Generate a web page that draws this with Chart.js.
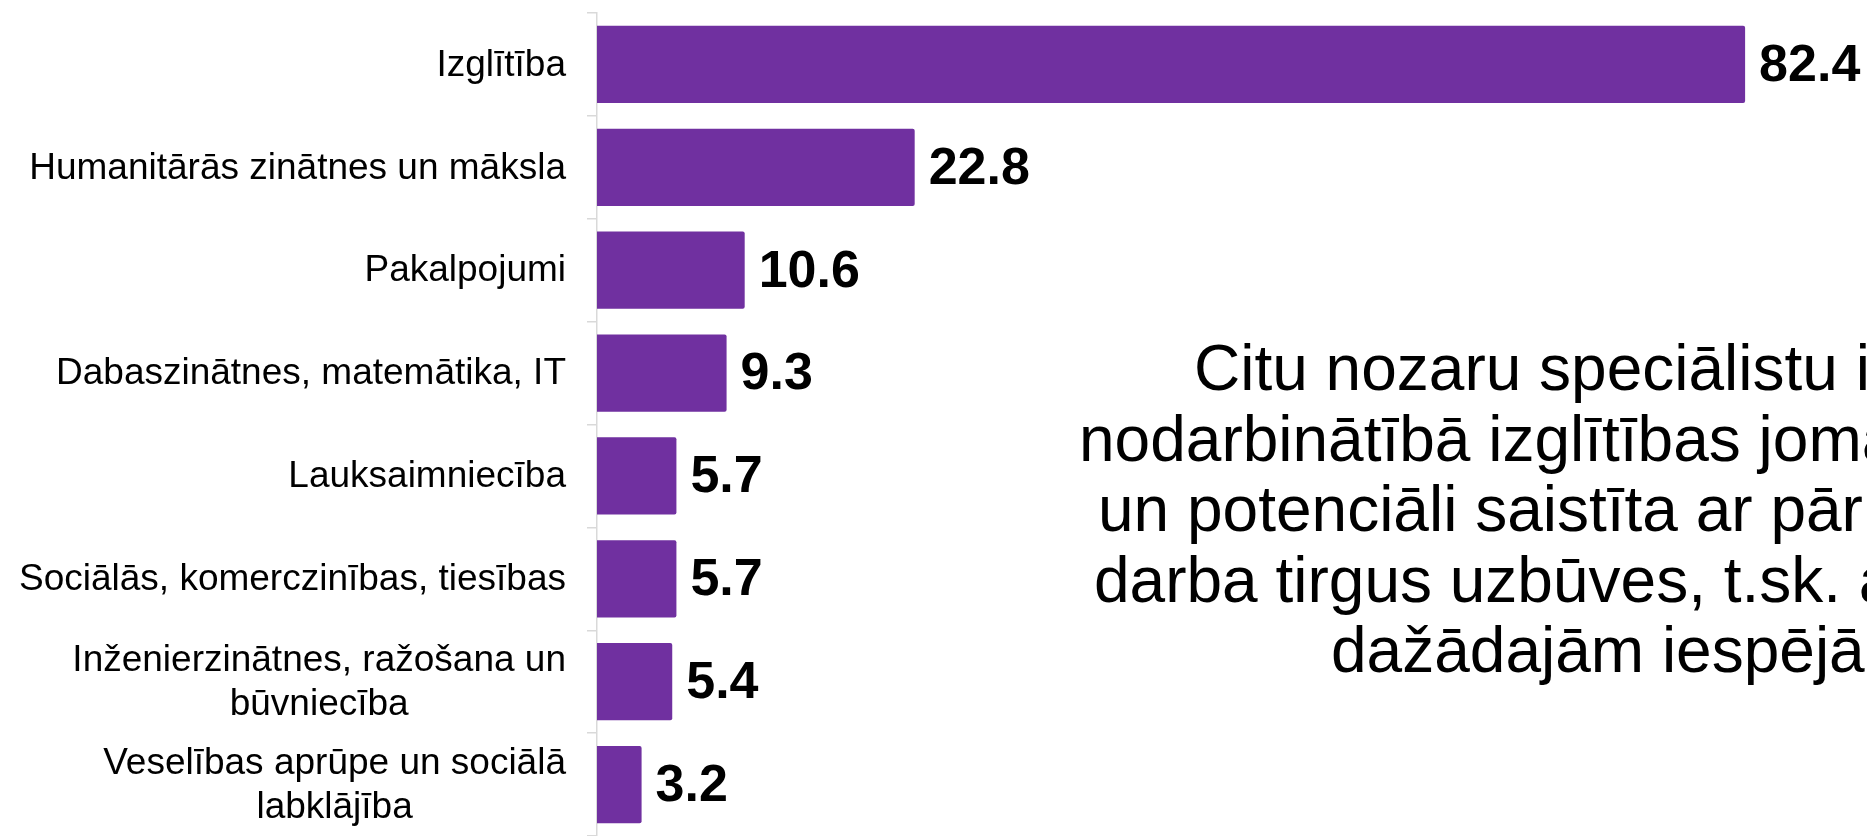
<!DOCTYPE html>
<html>
<head>
<meta charset="utf-8">
<script src="https://cdn.jsdelivr.net/npm/chart.js@4/dist/chart.umd.min.js"></script>
<style>
  html, body { margin: 0; padding: 0; background: #fff; overflow: hidden; }
  #wrap { width: 1867px; height: 836px; position: relative; }
</style>
</head>
<body>
<div id="wrap"><canvas id="myChart"></canvas></div>
<script>
// categories (multi-line ones are arrays)
var categories = [
  ['Izglītība'],
  ['Humanitārās zinātnes un māksla'],
  ['Pakalpojumi'],
  ['Dabaszinātnes, matemātika, IT'],
  ['Lauksaimniecība'],
  ['Sociālās, komerczinības, tiesības'],
  ['Inženierzinātnes, ražošana un', 'būvniecība'],
  ['Veselības aprūpe un sociālā', 'labklājība']
];
var values = [82.4, 22.8, 10.6, 9.3, 5.7, 5.7, 5.4, 3.2];

// side note, cut off by the right edge in the original
var noteLines = [
  'Citu nozaru speciālistu iesaiste',
  'nodarbinātībā izglītības jomā',
  'un potenciāli saistīta ar pārmaiņām',
  'darba tirgus uzbūves, t.sk. arī',
  'dažādajām iespējām'
];
var noteX = [1194, 1079, 1098, 1094, 1331];

var barColor = '#7030A0';

// category labels, right aligned, lines centred to each other
const catLabels = {
  id: 'catLabels',
  afterDraw(chart) {
    const ctx = chart.ctx;
    const y = chart.scales.y;
    ctx.save();
    ctx.font = '37px "Liberation Sans", Arial, sans-serif';
    ctx.fillStyle = '#000';
    ctx.textBaseline = 'middle';
    const right = chart.chartArea.left - 31;
    categories.forEach((lines, i) => {
      const cy = y.getPixelForValue(i) + 1;
      const lh = 44;
      let widest = 0;
      lines.forEach(l => { widest = Math.max(widest, ctx.measureText(l).width); });
      const cx = right - widest / 2;
      ctx.textAlign = 'center';
      lines.forEach((l, k) => {
        const ly = cy + (k - (lines.length - 1) / 2) * lh;
        ctx.fillText(l, cx, ly);
      });
    });
    ctx.restore();
  }
};

// value labels at bar ends
const valueLabels = {
  id: 'valueLabels',
  afterDatasetsDraw(chart) {
    const ctx = chart.ctx;
    const meta = chart.getDatasetMeta(0);
    ctx.save();
    ctx.font = 'bold 52px "Liberation Sans", Arial, sans-serif';
    ctx.fillStyle = '#000';
    ctx.textAlign = 'left';
    ctx.textBaseline = 'middle';
    meta.data.forEach((bar, i) => {
      ctx.fillText(values[i].toFixed(1), bar.x + 14, bar.y + 2);
    });
    ctx.restore();
  }
};

// note text on the right
const noteText = {
  id: 'noteText',
  afterDraw(chart) {
    const ctx = chart.ctx;
    ctx.save();
    ctx.font = '64px "Liberation Sans", Arial, sans-serif';
    ctx.fillStyle = '#000';
    ctx.textAlign = 'left';
    ctx.textBaseline = 'alphabetic';
    noteLines.forEach((l, i) => {
      ctx.fillText(l, noteX[i], 390 + i * 70.5);
    });
    ctx.restore();
  }
};

const data = {
  labels: categories,
  datasets: [{
    data: values,
    backgroundColor: barColor,
    borderRadius: 2,
    borderSkipped: 'start',
    barPercentage: 0.75,
    categoryPercentage: 1
  }]
};

const config = {
  type: 'bar',
  data: data,
  options: {
    indexAxis: 'y',
    responsive: true,
    maintainAspectRatio: false,
    devicePixelRatio: 1,
    animation: false,
    layout: { padding: { top: 13, right: 16, bottom: 0, left: 0 } },
    plugins: {
      legend: { display: false },
      tooltip: { enabled: false }
    },
    scales: {
      x: {
        display: false,
        min: 0,
        max: 90
      },
      y: {
        afterFit: function (s) { s.width = 597; },
        ticks: { display: false },
        grid: {
          offset: true,
          drawOnChartArea: false,
          drawTicks: true,
          tickLength: 10,
          color: '#d9d9d9',
          lineWidth: 1.5
        },
        border: { display: true, color: '#d9d9d9', width: 1.5 }
      }
    }
  },
  plugins: [catLabels, valueLabels, noteText]
};

const myChart = new Chart(document.getElementById('myChart'), config);
</script>
</body>
</html>
